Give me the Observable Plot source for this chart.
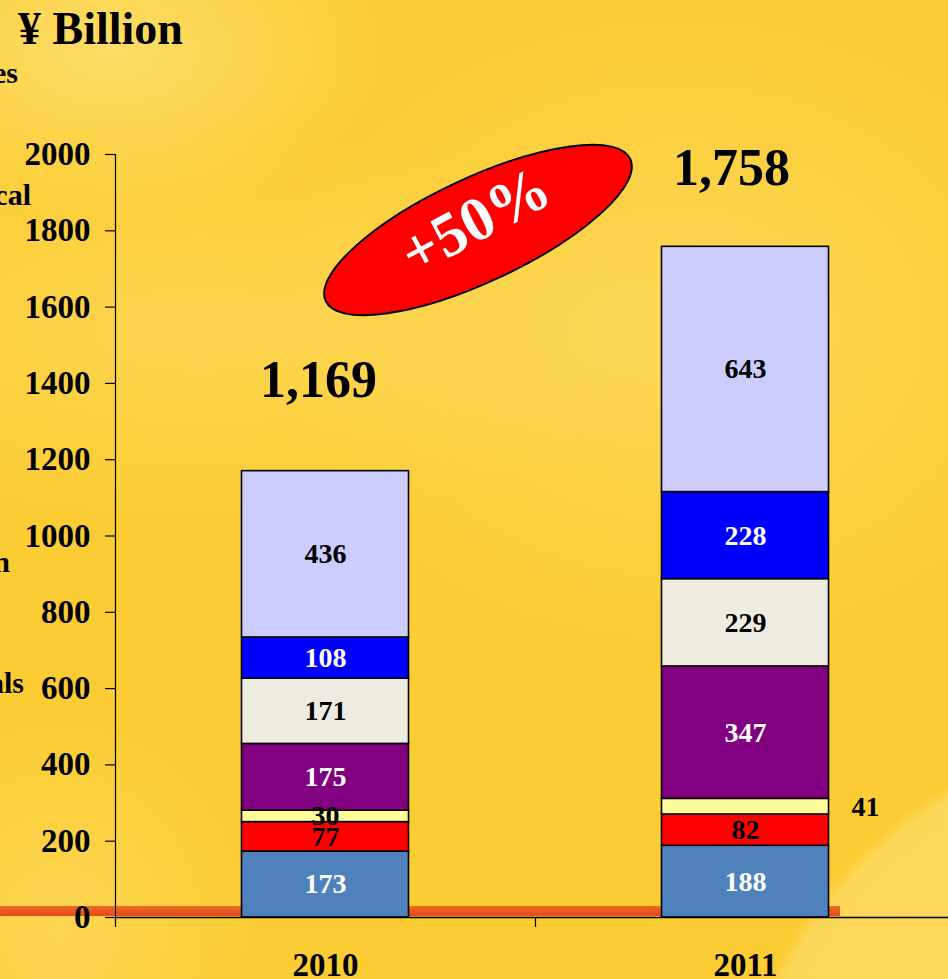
<!DOCTYPE html>
<html>
<head>
<meta charset="utf-8">
<script src="https://cdn.jsdelivr.net/npm/d3@7"></script>
<script src="https://cdn.jsdelivr.net/npm/@observablehq/plot@0.6"></script>
<style>
html,body{margin:0;padding:0;}
body{width:948px;height:979px;overflow:hidden;font-family:"Liberation Serif","Times New Roman",serif;}
#page{position:relative;width:948px;height:979px;overflow:hidden;
  background:
    radial-gradient(circle 430px at 1160px 1160px, rgba(255,222,110,0.75) 0%, rgba(255,222,110,0.6) 97%, rgba(255,222,110,0) 100%),
    radial-gradient(ellipse 280px 170px at 110px 50px, rgba(255,228,125,0.7), rgba(255,228,125,0) 100%),
    radial-gradient(ellipse 420px 330px at 680px 330px, rgba(255,226,120,0.5), rgba(255,226,120,0) 100%),
    radial-gradient(ellipse 500px 200px at 200px 330px, rgba(255,226,120,0.4), rgba(255,226,120,0) 100%),
    radial-gradient(ellipse 200px 220px at 60px 930px, rgba(255,226,120,0.45), rgba(255,226,120,0) 100%),
    #FBCC33;}
#stripe{position:absolute;left:0;top:906px;width:840px;height:10px;background:linear-gradient(#EE6A22,#E34A1C);}
#chart{position:absolute;left:0;top:0;}
.t{position:absolute;font-weight:bold;color:#000;white-space:nowrap;line-height:1;}
.frag{font-size:30px;text-align:right;}
#overlay{position:absolute;left:0;top:0;pointer-events:none;}
</style>
</head>
<body>
<div id="page">
  <div id="stripe"></div>
  <div id="chart"></div>
  <div class="t" style="left:18px;top:6px;font-size:46px;">¥ Billion</div>
  <div class="t frag" style="right:930px;top:58px;">es</div>
  <div class="t frag" style="right:917px;top:180px;">cal</div>
  <div class="t frag" style="right:938px;top:547px;">n</div>
  <div class="t frag" style="right:924px;top:668px;">als</div>
  <svg id="overlay" width="948" height="979">
    <ellipse cx="478" cy="230" rx="168" ry="52" transform="rotate(-25 478 230)" fill="#FF0000" stroke="#000" stroke-width="2"/>
    <text x="478" y="226" transform="rotate(-28 478 226)" text-anchor="middle" dominant-baseline="middle"
      font-family="Liberation Serif, Times New Roman, serif" font-weight="bold" font-size="62" fill="#fff">+50%</text>
  </svg>
</div>
<script>
const years = ["2010", "2011"];
const segments = ["Segment 1", "Segment 2", "Segment 3", "Segment 4", "Segment 5", "Segment 6", "Segment 7"];
const values2010 = [173, 77, 30, 175, 171, 108, 436];
const values2011 = [188, 82, 41, 347, 229, 228, 643];
const totals = [1169, 1758];
const segColors = ["#4F81BD", "#FF0000", "#FFFF99", "#800080", "#EEECE1", "#0000FF", "#CCCCFF"];
const labelColors = ["#fff", "#000", "#000", "#fff", "#000", "#fff", "#000"];
const yTicks = [0, 200, 400, 600, 800, 1000, 1200, 1400, 1600, 1800, 2000];

const seriesByYear = [values2010, values2011];
const rows = [];
years.forEach((yr, i) => {
  seriesByYear[i].forEach((v, j) => {
    rows.push({year: yr, segment: segments[j], value: v, fill: segColors[j], lc: labelColors[j], idx: j});
  });
});
const totalRows = years.map((yr, i) => ({year: yr, total: totals[i]}));
const isOutside = d => d.year === "2011" && d.idx === 2;
const fmt = d3.format(",");

const chart = Plot.plot({
  width: 948,
  height: 979,
  marginTop: 154,
  marginBottom: 62,
  marginLeft: 115,
  marginRight: -7,
  style: {background: "transparent", fontFamily: "Liberation Serif, Times New Roman, serif", fontWeight: "bold", color: "#000", overflow: "visible"},
  x: {type: "band", domain: years, padding: 0, axis: null},
  y: {domain: [0, 2000], axis: null},
  color: {type: "identity"},
  marks: [
    Plot.ruleX([years[0]], {x: d => d, dx: -210, y1: 0, y2: 2000, stroke: "#000", strokeWidth: 1.2}),
    Plot.axisX({tickSize: 10, dx: -210, tickFormat: () => "", label: null, stroke: "#000", strokeWidth: 1.2}),
    Plot.axisX({tickSize: 0, tickPadding: 35, fontSize: 33, fontWeight: "bold", label: null}),
    Plot.axisY({ticks: yTicks, tickSize: 10, tickPadding: 15, fontSize: 33, fontWeight: "bold", label: null, tickFormat: d => String(d), strokeWidth: 1.2}),
    Plot.barY(rows, {x: "year", y: "value", fill: "fill", stroke: "#000", strokeWidth: 1.6, insetLeft: 126.5, insetRight: 126.5}),
    Plot.ruleY([0], {stroke: "#000", strokeWidth: 1.5}),
    Plot.text(rows, Plot.stackY({x: "year", y: "value", text: d => isOutside(d) ? null : String(d.value), fill: "lc", fontSize: 28, fontWeight: "bold"})),
    Plot.text(rows, Plot.stackY({x: "year", y: "value", text: d => isOutside(d) ? String(d.value) : null, fill: "#000", fontSize: 28, fontWeight: "bold", dx: 120})),
    Plot.text(totalRows, {x: "year", y: "total", text: d => d.year === "2010" ? fmt(d.total) : null, fontSize: 52, fontWeight: "bold", fill: "#000", dy: -91, dx: -7}),
    Plot.text(totalRows, {x: "year", y: "total", text: d => d.year === "2011" ? fmt(d.total) : null, fontSize: 52, fontWeight: "bold", fill: "#000", dy: -78, dx: -14})
  ]
});
document.getElementById("chart").appendChild(chart);
</script>
</body>
</html>
